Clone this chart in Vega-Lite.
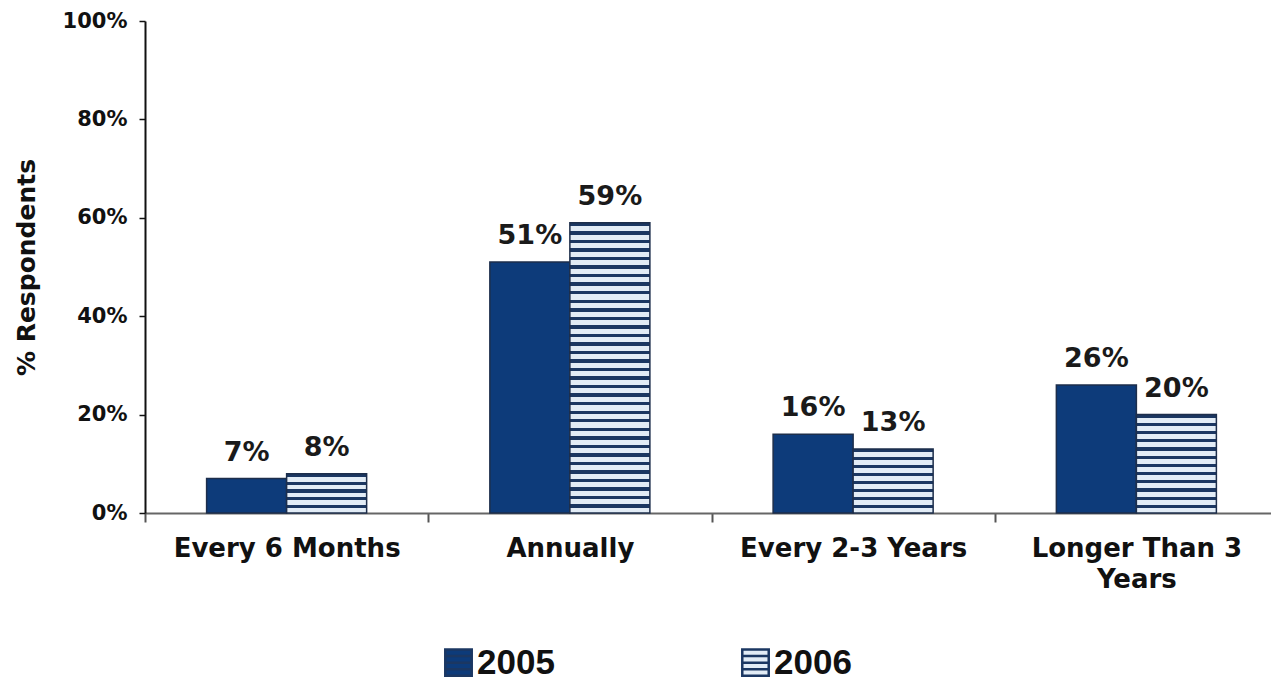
{
  "$schema": "https://vega.github.io/schema/vega-lite/v6.json",
  "autosize": {"type": "none"},
  "padding": {"left": 145, "top": 21, "right": 0, "bottom": 169},
  "width": 1133,
  "height": 492,
  "background": "white",
  "config": {"view": {"stroke": null}, "font": "DejaVu Sans"},
  "data": {
    "values": [
      {"cat": "Every 6 Months", "year": "2005", "value": 0.07},
      {"cat": "Every 6 Months", "year": "2006", "value": 0.08},
      {"cat": "Annually", "year": "2005", "value": 0.51},
      {"cat": "Annually", "year": "2006", "value": 0.59},
      {"cat": "Every 2-3 Years", "year": "2005", "value": 0.16},
      {"cat": "Every 2-3 Years", "year": "2006", "value": 0.13},
      {"cat": "Longer Than 3 Years", "year": "2005", "value": 0.26},
      {"cat": "Longer Than 3 Years", "year": "2006", "value": 0.20}
    ]
  },
  "encoding": {
    "x": {
      "field": "cat",
      "type": "nominal",
      "sort": ["Every 6 Months", "Annually", "Every 2-3 Years", "Longer Than 3 Years"],
      "scale": {"paddingInner": 0, "paddingOuter": 0},
      "axis": {
        "title": null,
        "labelAngle": 0,
        "tickBand": "extent",
        "domainColor": "#666666",
        "domainWidth": 2,
        "tickColor": "#555555",
        "tickSize": 9,
        "tickWidth": 2,
        "labelFont": "DejaVu Sans",
        "labelFontSize": 26,
        "labelFontWeight": "bold",
        "labelColor": "#111111",
        "labelPadding": 13,
        "labelLimit": 0,
        "labelOverlap": false,
        "labelLineHeight": 31,
        "labelExpr": "datum.value === 'Longer Than 3 Years' ? ['Longer Than 3', 'Years'] : datum.value"
      }
    },
    "xOffset": {
      "field": "year",
      "type": "nominal",
      "scale": {"paddingOuter": 0.77, "paddingInner": 0}
    },
    "y": {
      "field": "value",
      "type": "quantitative",
      "scale": {"domain": [0, 1]},
      "axis": {
        "values": [0, 0.2, 0.4, 0.6, 0.8, 1],
        "format": ".0%",
        "title": "% Respondents",
        "grid": false,
        "domainColor": "#111111",
        "domainWidth": 2,
        "tickColor": "#111111",
        "tickSize": 6,
        "tickWidth": 1.5,
        "labelFont": "DejaVu Sans",
        "labelFontSize": 21,
        "labelFontWeight": "bold",
        "labelColor": "#111111",
        "labelPadding": 12,
        "titleFont": "DejaVu Sans",
        "titleFontSize": 25,
        "titleFontWeight": "bold",
        "titleColor": "#111111",
        "titlePadding": 23
      }
    }
  },
  "layer": [
    {
      "mark": {"type": "bar", "stroke": "#1d2e4b", "strokeWidth": 1.5},
      "encoding": {
        "fill": {
          "condition": [
            {
              "test": "datum.year === '2006' && datum.cat === 'Every 6 Months'",
              "value": {"gradient": "linear", "x1": 0, "y1": 0, "x2": 0, "y2": 1, "stops": [
                {"offset": 0, "color": "#1b3762"}, {"offset": 0.08, "color": "#1b3762"}, {"offset": 0.08, "color": "#e2ecf6"}, {"offset": 0.2, "color": "#e2ecf6"},
                {"offset": 0.2, "color": "#1b3762"}, {"offset": 0.28, "color": "#1b3762"}, {"offset": 0.28, "color": "#e2ecf6"}, {"offset": 0.4, "color": "#e2ecf6"},
                {"offset": 0.4, "color": "#1b3762"}, {"offset": 0.48, "color": "#1b3762"}, {"offset": 0.48, "color": "#e2ecf6"}, {"offset": 0.6, "color": "#e2ecf6"},
                {"offset": 0.6, "color": "#1b3762"}, {"offset": 0.68, "color": "#1b3762"}, {"offset": 0.68, "color": "#e2ecf6"}, {"offset": 0.8, "color": "#e2ecf6"},
                {"offset": 0.8, "color": "#1b3762"}, {"offset": 0.88, "color": "#1b3762"}, {"offset": 0.88, "color": "#e2ecf6"}, {"offset": 1, "color": "#e2ecf6"}
              ]}
            },
            {
              "test": "datum.year === '2006' && datum.cat === 'Every 2-3 Years'",
              "value": {"gradient": "linear", "x1": 0, "y1": 0, "x2": 0, "y2": 1, "stops": [
                {"offset": 0, "color": "#1b3762"}, {"offset": 0.05, "color": "#1b3762"}, {"offset": 0.05, "color": "#e2ecf6"}, {"offset": 0.125, "color": "#e2ecf6"},
                {"offset": 0.125, "color": "#1b3762"}, {"offset": 0.175, "color": "#1b3762"}, {"offset": 0.175, "color": "#e2ecf6"}, {"offset": 0.25, "color": "#e2ecf6"},
                {"offset": 0.25, "color": "#1b3762"}, {"offset": 0.3, "color": "#1b3762"}, {"offset": 0.3, "color": "#e2ecf6"}, {"offset": 0.375, "color": "#e2ecf6"},
                {"offset": 0.375, "color": "#1b3762"}, {"offset": 0.425, "color": "#1b3762"}, {"offset": 0.425, "color": "#e2ecf6"}, {"offset": 0.5, "color": "#e2ecf6"},
                {"offset": 0.5, "color": "#1b3762"}, {"offset": 0.55, "color": "#1b3762"}, {"offset": 0.55, "color": "#e2ecf6"}, {"offset": 0.625, "color": "#e2ecf6"},
                {"offset": 0.625, "color": "#1b3762"}, {"offset": 0.675, "color": "#1b3762"}, {"offset": 0.675, "color": "#e2ecf6"}, {"offset": 0.75, "color": "#e2ecf6"},
                {"offset": 0.75, "color": "#1b3762"}, {"offset": 0.8, "color": "#1b3762"}, {"offset": 0.8, "color": "#e2ecf6"}, {"offset": 0.875, "color": "#e2ecf6"},
                {"offset": 0.875, "color": "#1b3762"}, {"offset": 0.925, "color": "#1b3762"}, {"offset": 0.925, "color": "#e2ecf6"}, {"offset": 1, "color": "#e2ecf6"}
              ]}
            },
            {
              "test": "datum.year === '2006' && datum.cat === 'Longer Than 3 Years'",
              "value": {"gradient": "linear", "x1": 0, "y1": 0, "x2": 0, "y2": 1, "stops": [
                {"offset": 0, "color": "#1b3762"}, {"offset": 0.0333, "color": "#1b3762"}, {"offset": 0.0333, "color": "#e2ecf6"}, {"offset": 0.0833, "color": "#e2ecf6"},
                {"offset": 0.0833, "color": "#1b3762"}, {"offset": 0.1167, "color": "#1b3762"}, {"offset": 0.1167, "color": "#e2ecf6"}, {"offset": 0.1667, "color": "#e2ecf6"},
                {"offset": 0.1667, "color": "#1b3762"}, {"offset": 0.2, "color": "#1b3762"}, {"offset": 0.2, "color": "#e2ecf6"}, {"offset": 0.25, "color": "#e2ecf6"},
                {"offset": 0.25, "color": "#1b3762"}, {"offset": 0.2833, "color": "#1b3762"}, {"offset": 0.2833, "color": "#e2ecf6"}, {"offset": 0.3333, "color": "#e2ecf6"},
                {"offset": 0.3333, "color": "#1b3762"}, {"offset": 0.3667, "color": "#1b3762"}, {"offset": 0.3667, "color": "#e2ecf6"}, {"offset": 0.4167, "color": "#e2ecf6"},
                {"offset": 0.4167, "color": "#1b3762"}, {"offset": 0.45, "color": "#1b3762"}, {"offset": 0.45, "color": "#e2ecf6"}, {"offset": 0.5, "color": "#e2ecf6"},
                {"offset": 0.5, "color": "#1b3762"}, {"offset": 0.5333, "color": "#1b3762"}, {"offset": 0.5333, "color": "#e2ecf6"}, {"offset": 0.5833, "color": "#e2ecf6"},
                {"offset": 0.5833, "color": "#1b3762"}, {"offset": 0.6167, "color": "#1b3762"}, {"offset": 0.6167, "color": "#e2ecf6"}, {"offset": 0.6667, "color": "#e2ecf6"},
                {"offset": 0.6667, "color": "#1b3762"}, {"offset": 0.7, "color": "#1b3762"}, {"offset": 0.7, "color": "#e2ecf6"}, {"offset": 0.75, "color": "#e2ecf6"},
                {"offset": 0.75, "color": "#1b3762"}, {"offset": 0.7833, "color": "#1b3762"}, {"offset": 0.7833, "color": "#e2ecf6"}, {"offset": 0.8333, "color": "#e2ecf6"},
                {"offset": 0.8333, "color": "#1b3762"}, {"offset": 0.8667, "color": "#1b3762"}, {"offset": 0.8667, "color": "#e2ecf6"}, {"offset": 0.9167, "color": "#e2ecf6"},
                {"offset": 0.9167, "color": "#1b3762"}, {"offset": 0.95, "color": "#1b3762"}, {"offset": 0.95, "color": "#e2ecf6"}, {"offset": 1, "color": "#e2ecf6"}
              ]}
            },
            {
              "test": "datum.year === '2006' && datum.cat === 'Annually'",
              "value": {"gradient": "linear", "x1": 0, "y1": 0, "x2": 0, "y2": 1, "stops": [
                {"offset": 0, "color": "#1b3762"}, {"offset": 0.0118, "color": "#1b3762"}, {"offset": 0.0118, "color": "#e2ecf6"}, {"offset": 0.0294, "color": "#e2ecf6"},
                {"offset": 0.0294, "color": "#1b3762"}, {"offset": 0.0412, "color": "#1b3762"}, {"offset": 0.0412, "color": "#e2ecf6"}, {"offset": 0.0588, "color": "#e2ecf6"},
                {"offset": 0.0588, "color": "#1b3762"}, {"offset": 0.0706, "color": "#1b3762"}, {"offset": 0.0706, "color": "#e2ecf6"}, {"offset": 0.0882, "color": "#e2ecf6"},
                {"offset": 0.0882, "color": "#1b3762"}, {"offset": 0.1, "color": "#1b3762"}, {"offset": 0.1, "color": "#e2ecf6"}, {"offset": 0.1176, "color": "#e2ecf6"},
                {"offset": 0.1176, "color": "#1b3762"}, {"offset": 0.1294, "color": "#1b3762"}, {"offset": 0.1294, "color": "#e2ecf6"}, {"offset": 0.1471, "color": "#e2ecf6"},
                {"offset": 0.1471, "color": "#1b3762"}, {"offset": 0.1588, "color": "#1b3762"}, {"offset": 0.1588, "color": "#e2ecf6"}, {"offset": 0.1765, "color": "#e2ecf6"},
                {"offset": 0.1765, "color": "#1b3762"}, {"offset": 0.1882, "color": "#1b3762"}, {"offset": 0.1882, "color": "#e2ecf6"}, {"offset": 0.2059, "color": "#e2ecf6"},
                {"offset": 0.2059, "color": "#1b3762"}, {"offset": 0.2176, "color": "#1b3762"}, {"offset": 0.2176, "color": "#e2ecf6"}, {"offset": 0.2353, "color": "#e2ecf6"},
                {"offset": 0.2353, "color": "#1b3762"}, {"offset": 0.2471, "color": "#1b3762"}, {"offset": 0.2471, "color": "#e2ecf6"}, {"offset": 0.2647, "color": "#e2ecf6"},
                {"offset": 0.2647, "color": "#1b3762"}, {"offset": 0.2765, "color": "#1b3762"}, {"offset": 0.2765, "color": "#e2ecf6"}, {"offset": 0.2941, "color": "#e2ecf6"},
                {"offset": 0.2941, "color": "#1b3762"}, {"offset": 0.3059, "color": "#1b3762"}, {"offset": 0.3059, "color": "#e2ecf6"}, {"offset": 0.3235, "color": "#e2ecf6"},
                {"offset": 0.3235, "color": "#1b3762"}, {"offset": 0.3353, "color": "#1b3762"}, {"offset": 0.3353, "color": "#e2ecf6"}, {"offset": 0.3529, "color": "#e2ecf6"},
                {"offset": 0.3529, "color": "#1b3762"}, {"offset": 0.3647, "color": "#1b3762"}, {"offset": 0.3647, "color": "#e2ecf6"}, {"offset": 0.3824, "color": "#e2ecf6"},
                {"offset": 0.3824, "color": "#1b3762"}, {"offset": 0.3941, "color": "#1b3762"}, {"offset": 0.3941, "color": "#e2ecf6"}, {"offset": 0.4118, "color": "#e2ecf6"},
                {"offset": 0.4118, "color": "#1b3762"}, {"offset": 0.4235, "color": "#1b3762"}, {"offset": 0.4235, "color": "#e2ecf6"}, {"offset": 0.4412, "color": "#e2ecf6"},
                {"offset": 0.4412, "color": "#1b3762"}, {"offset": 0.4529, "color": "#1b3762"}, {"offset": 0.4529, "color": "#e2ecf6"}, {"offset": 0.4706, "color": "#e2ecf6"},
                {"offset": 0.4706, "color": "#1b3762"}, {"offset": 0.4824, "color": "#1b3762"}, {"offset": 0.4824, "color": "#e2ecf6"}, {"offset": 0.5, "color": "#e2ecf6"},
                {"offset": 0.5, "color": "#1b3762"}, {"offset": 0.5118, "color": "#1b3762"}, {"offset": 0.5118, "color": "#e2ecf6"}, {"offset": 0.5294, "color": "#e2ecf6"},
                {"offset": 0.5294, "color": "#1b3762"}, {"offset": 0.5412, "color": "#1b3762"}, {"offset": 0.5412, "color": "#e2ecf6"}, {"offset": 0.5588, "color": "#e2ecf6"},
                {"offset": 0.5588, "color": "#1b3762"}, {"offset": 0.5706, "color": "#1b3762"}, {"offset": 0.5706, "color": "#e2ecf6"}, {"offset": 0.5882, "color": "#e2ecf6"},
                {"offset": 0.5882, "color": "#1b3762"}, {"offset": 0.6, "color": "#1b3762"}, {"offset": 0.6, "color": "#e2ecf6"}, {"offset": 0.6176, "color": "#e2ecf6"},
                {"offset": 0.6176, "color": "#1b3762"}, {"offset": 0.6294, "color": "#1b3762"}, {"offset": 0.6294, "color": "#e2ecf6"}, {"offset": 0.6471, "color": "#e2ecf6"},
                {"offset": 0.6471, "color": "#1b3762"}, {"offset": 0.6588, "color": "#1b3762"}, {"offset": 0.6588, "color": "#e2ecf6"}, {"offset": 0.6765, "color": "#e2ecf6"},
                {"offset": 0.6765, "color": "#1b3762"}, {"offset": 0.6882, "color": "#1b3762"}, {"offset": 0.6882, "color": "#e2ecf6"}, {"offset": 0.7059, "color": "#e2ecf6"},
                {"offset": 0.7059, "color": "#1b3762"}, {"offset": 0.7176, "color": "#1b3762"}, {"offset": 0.7176, "color": "#e2ecf6"}, {"offset": 0.7353, "color": "#e2ecf6"},
                {"offset": 0.7353, "color": "#1b3762"}, {"offset": 0.7471, "color": "#1b3762"}, {"offset": 0.7471, "color": "#e2ecf6"}, {"offset": 0.7647, "color": "#e2ecf6"},
                {"offset": 0.7647, "color": "#1b3762"}, {"offset": 0.7765, "color": "#1b3762"}, {"offset": 0.7765, "color": "#e2ecf6"}, {"offset": 0.7941, "color": "#e2ecf6"},
                {"offset": 0.7941, "color": "#1b3762"}, {"offset": 0.8059, "color": "#1b3762"}, {"offset": 0.8059, "color": "#e2ecf6"}, {"offset": 0.8235, "color": "#e2ecf6"},
                {"offset": 0.8235, "color": "#1b3762"}, {"offset": 0.8353, "color": "#1b3762"}, {"offset": 0.8353, "color": "#e2ecf6"}, {"offset": 0.8529, "color": "#e2ecf6"},
                {"offset": 0.8529, "color": "#1b3762"}, {"offset": 0.8647, "color": "#1b3762"}, {"offset": 0.8647, "color": "#e2ecf6"}, {"offset": 0.8824, "color": "#e2ecf6"},
                {"offset": 0.8824, "color": "#1b3762"}, {"offset": 0.8941, "color": "#1b3762"}, {"offset": 0.8941, "color": "#e2ecf6"}, {"offset": 0.9118, "color": "#e2ecf6"},
                {"offset": 0.9118, "color": "#1b3762"}, {"offset": 0.9235, "color": "#1b3762"}, {"offset": 0.9235, "color": "#e2ecf6"}, {"offset": 0.9412, "color": "#e2ecf6"},
                {"offset": 0.9412, "color": "#1b3762"}, {"offset": 0.9529, "color": "#1b3762"}, {"offset": 0.9529, "color": "#e2ecf6"}, {"offset": 0.9706, "color": "#e2ecf6"},
                {"offset": 0.9706, "color": "#1b3762"}, {"offset": 0.9824, "color": "#1b3762"}, {"offset": 0.9824, "color": "#e2ecf6"}, {"offset": 1, "color": "#e2ecf6"}
              ]}
            }
          ],
          "field": "year",
          "type": "nominal",
          "scale": {"domain": ["2005", "2006"], "range": ["#0d3b7a", "#e2ecf6"]},
          "legend": {
            "orient": "none",
            "legendX": 296,
            "legendY": 624,
            "direction": "horizontal",
            "title": null,
            "symbolType": "M-1,-1H1V1H-1Z M-1,-0.5H1 M-1,0H1 M-1,0.5H1",
            "symbolSize": 700,
            "symbolStrokeColor": "#1b3762",
            "symbolStrokeWidth": 2.5,
            "labelFont": "Liberation Sans",
            "labelFontSize": 35,
            "labelFontWeight": "bold",
            "labelColor": "#111111",
            "labelOffset": 1,
            "columnPadding": 182
          }
        }
      }
    },
    {
      "mark": {
        "type": "text",
        "baseline": "alphabetic",
        "align": "center",
        "dy": -18,
        "font": "DejaVu Sans",
        "fontSize": 27,
        "fontWeight": "bold",
        "color": "#1a1a1a"
      },
      "encoding": {
        "text": {"field": "value", "type": "quantitative", "format": ".0%"}
      }
    }
  ]
}
